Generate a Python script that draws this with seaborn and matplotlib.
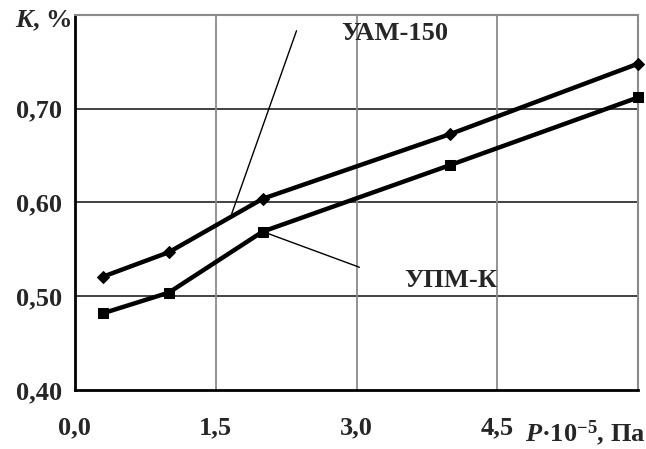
import matplotlib
matplotlib.use("Agg")
import matplotlib.pyplot as plt
import seaborn as sns
import pandas as pd

pressure = [0.3, 1.0, 2.0, 4.0, 6.0]
k_uam150 = [0.521, 0.547, 0.604, 0.673, 0.748]
k_upmk = [0.482, 0.504, 0.569, 0.640, 0.712]

x_ticks = [0.0, 1.5, 3.0, 4.5, 6.0]
x_labels = ["0,0", "1,5", "3,0", "4,5", ""]
y_ticks = [0.40, 0.50, 0.60, 0.70, 0.80]
y_labels = ["0,40", "0,50", "0,60", "0,70", ""]

sns.set_style("white")
plt.rcParams["font.family"] = ["Liberation Serif", "DejaVu Serif"]
plt.rcParams["font.weight"] = "bold"
plt.rcParams["mathtext.fontset"] = "custom"
plt.rcParams["mathtext.rm"] = "Liberation Serif:bold"
plt.rcParams["mathtext.it"] = "Liberation Serif:italic:bold"
plt.rcParams["mathtext.bf"] = "Liberation Serif:bold"

df_uam = pd.DataFrame({"P": pressure, "K": k_uam150})
df_upm = pd.DataFrame({"P": pressure, "K": k_upmk})

fig = plt.figure(figsize=(6.46, 4.49), dpi=100)
ax = fig.add_axes([0.116, 0.131, 0.872, 0.836])

# grid: horizontal dark, vertical grey
for yv in [0.50, 0.60, 0.70]:
    ax.axhline(yv, color="#333333", lw=1.3, zorder=1)
for xv in [1.5, 3.0, 4.5]:
    ax.axvline(xv, color="#8a8a8a", lw=1.3, zorder=1)

sns.lineplot(data=df_uam, x="P", y="K", ax=ax, color="black", lw=3.2,
             marker="D", markersize=6, markeredgecolor="black", zorder=3,
             clip_on=False)
sns.lineplot(data=df_upm, x="P", y="K", ax=ax, color="black", lw=3.2,
             marker="s", markersize=7.5, markeredgecolor="black", zorder=3,
             clip_on=False)

# leader lines and series labels
ax.plot([2.36, 1.67], [0.783, 0.588], color="black", lw=1.0, zorder=2)
ax.text(2.84, 0.780, "УАМ-150", fontsize=19, fontweight="bold",
        va="center", ha="left")
ax.plot([2.0, 3.03], [0.569, 0.531], color="black", lw=1.0, zorder=2)
ax.text(3.51, 0.517, "УПМ-К", fontsize=19, fontweight="bold",
        va="center", ha="left")

ax.set_xlim(0, 6)
ax.set_ylim(0.40, 0.80)
ax.set_xticks(x_ticks)
ax.set_xticklabels(x_labels, fontsize=19, fontweight="bold")
ax.set_yticks(y_ticks)
ax.set_yticklabels(y_labels, fontsize=19, fontweight="bold")
ax.set_xlabel("")
ax.set_ylabel("")
ax.tick_params(axis="both", direction="out", length=4, width=1.2,
               color="black")
ax.tick_params(axis="y", pad=5)
ax.tick_params(axis="x", pad=15)

# axis titles sit in place of the last tick labels
fig.text(72 / 646, 1 - 21 / 449, r"$K$, %", fontsize=19, fontweight="bold",
         ha="right", va="center")
fig.text(645 / 646, 1 - 433 / 449, r"$P$·$10^{-5}$, Па", fontsize=19,
         fontweight="bold", ha="right", va="center")

for side in ["left", "bottom"]:
    ax.spines[side].set_color("black")
    ax.spines[side].set_linewidth(2.0)
for side in ["top", "right"]:
    ax.spines[side].set_color("#8a8a8a")
    ax.spines[side].set_linewidth(1.5)

fig.savefig("out.png", dpi=100)
